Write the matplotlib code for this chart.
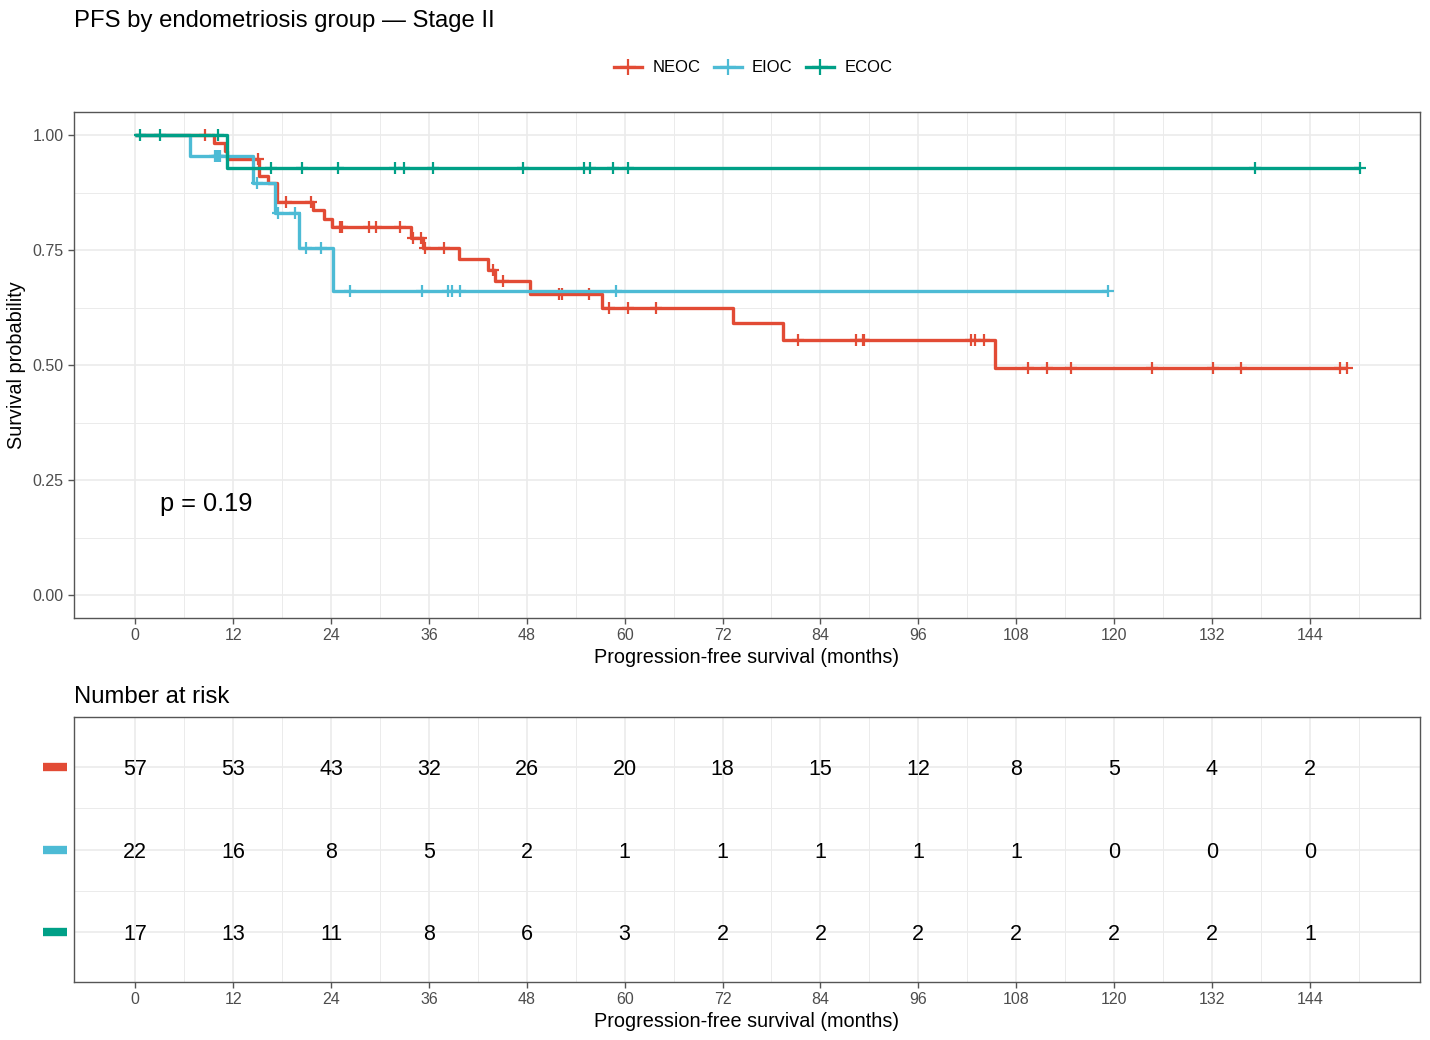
import numpy as np
import matplotlib.pyplot as plt
from matplotlib.ticker import FixedLocator
from matplotlib.transforms import blended_transform_factory

plt.rcParams['font.family'] = ['Liberation Sans', 'DejaVu Sans']

groups = ["NEOC", "EIOC", "ECOC"]
colors = ["#E24B35", "#4DBBD5", "#00A087"]

# event times (months) and survival right after each event
neoc_t = [9.7, 11.0, 11.3, 15.2, 16.3, 17.4, 21.8, 23.1, 24.1, 33.8, 35.3, 39.7,
          43.3, 44.1, 48.4, 57.2, 73.3, 79.4, 105.4]
neoc_s = [0.982, 0.965, 0.947, 0.910, 0.895, 0.855, 0.836, 0.817, 0.800, 0.776,
          0.754, 0.730, 0.707, 0.682, 0.655, 0.624, 0.592, 0.555, 0.494]
neoc_cens = [8.6, 15.0, 18.5, 21.5, 25.1, 25.4, 28.7, 29.5, 32.5, 34.0, 35.0, 35.5,
             37.9, 43.9, 45.1, 52.0, 52.3, 55.6, 58.1, 60.4, 63.9, 81.2, 88.4, 89.2,
             89.4, 102.4, 102.9, 104.0, 109.4, 111.8, 114.7, 124.7, 132.1, 135.5,
             147.7, 148.5]

eioc_t = [6.7, 14.5, 17.2, 20.1, 24.2]
eioc_s = [0.955, 0.895, 0.831, 0.755, 0.661]
eioc_cens = [9.8, 10.0, 10.1, 10.3, 10.4, 14.9, 17.5, 19.6, 20.9, 22.8, 26.3, 35.2,
             38.4, 38.8, 39.8, 59.0, 119.2]

ecoc_t = [11.2]
ecoc_s = [0.928]
ecoc_cens = [0.6, 3.1, 10.1, 16.6, 20.4, 24.9, 31.9, 33.0, 36.5, 47.5, 55.0, 55.8,
             58.6, 60.4, 137.3, 150.1]

risk_times = [0, 12, 24, 36, 48, 60, 72, 84, 96, 108, 120, 132, 144]
neoc_risk = [57, 53, 43, 32, 26, 20, 18, 15, 12, 8, 5, 4, 2]
eioc_risk = [22, 16, 8, 5, 2, 1, 1, 1, 1, 1, 0, 0, 0]
ecoc_risk = [17, 13, 11, 8, 6, 3, 2, 2, 2, 2, 2, 2, 1]

p_label = "p = 0.19"

curves = [(neoc_t, neoc_s, neoc_cens), (eioc_t, eioc_s, eioc_cens), (ecoc_t, ecoc_s, ecoc_cens)]
risks = [neoc_risk, eioc_risk, ecoc_risk]

fig = plt.figure(figsize=(14.3, 10.4), dpi=100)
ax = fig.add_axes([74 / 1430, 1 - 618 / 1040, 1346 / 1430, 506 / 1040])
ax2 = fig.add_axes([74 / 1430, 1 - 982 / 1040, 1346 / 1430, 265 / 1040])

tick_col = "#4D4D4D"
grid_col = "#EBEBEB"


def style(a):
    a.set_facecolor("white")
    a.set_axisbelow(True)
    a.grid(True, which="major", color=grid_col, lw=1.2)
    a.grid(True, which="minor", color=grid_col, lw=0.7)
    for sp in a.spines.values():
        sp.set_color("#555555")
        sp.set_linewidth(1.0)
    a.tick_params(which="major", length=4, width=1, color="#555555",
                  labelcolor=tick_col, labelsize=11.5)
    a.tick_params(which="minor", length=0)
    a.set_xlim(-7.5, 157.5)
    a.set_xticks(risk_times)
    a.xaxis.set_minor_locator(FixedLocator([6 + 12 * i for i in range(13)]))
    a.set_xlabel("Progression-free survival (months)", fontsize=14.3, labelpad=3)


style(ax)
style(ax2)

handles = []
for (t, s, cens), col, name in zip(curves, colors, groups):
    end = max(cens + t)
    tt = [0] + t + [end]
    ss = [1.0] + s + [s[-1]]
    ax.step(tt, ss, where="post", color=col, lw=2.4, solid_capstyle="butt")
    idx = np.searchsorted(np.array(tt), np.array(cens), side="right") - 1
    cy = np.array(ss)[idx]
    ax.plot(cens, cy, ls="none", marker="+", ms=9, mew=1.6, color=col)
    lh, = ax.plot([], [], color=col, lw=2.4, marker="+", ms=11, mew=1.6, label=name)
    handles.append(lh)

ax.set_ylim(-0.05, 1.05)
ax.set_yticks([0, 0.25, 0.5, 0.75, 1.0])
ax.yaxis.set_minor_locator(FixedLocator([0.125, 0.375, 0.625, 0.875]))
ax.set_yticklabels(["0.00", "0.25", "0.50", "0.75", "1.00"])
ax.set_ylabel("Survival probability", fontsize=14.3, labelpad=5)
ax.text(3.0, 0.197, p_label, fontsize=18.3, ha="left", va="center")

fig.legend(handles=handles, loc="center", ncol=3, bbox_to_anchor=(753 / 1430, 1 - 68 / 1040),
           frameon=False, fontsize=12, handlelength=1.7, columnspacing=0.8, handletextpad=0.6)

fig.text(74 / 1430, 1 - 21 / 1040, "PFS by endometriosis group \u2014 Stage II",
         fontsize=17.2, ha="left", va="center")
fig.text(74 / 1430, 1 - 697 / 1040, "Number at risk", fontsize=17.2, ha="left", va="center")

# risk table
ax2.set_ylim(3.6, 0.4)
ax2.set_yticks([1, 2, 3])
ax2.set_yticklabels([])
ax2.yaxis.set_minor_locator(FixedLocator([1.5, 2.5]))
ax2.tick_params(axis="y", which="major", length=0)
trans = blended_transform_factory(ax2.transAxes, ax2.transData)
for row, (vals, col) in enumerate(zip(risks, colors), start=1):
    for x, v in zip(risk_times, vals):
        ax2.text(x, row, str(v), fontsize=15.5, ha="center", va="center_baseline")
    ax2.plot([-0.023, -0.005], [row, row], transform=trans, color=col, lw=6,
             solid_capstyle="butt", clip_on=False)

fig.savefig("out.png", dpi=100, facecolor="white")
